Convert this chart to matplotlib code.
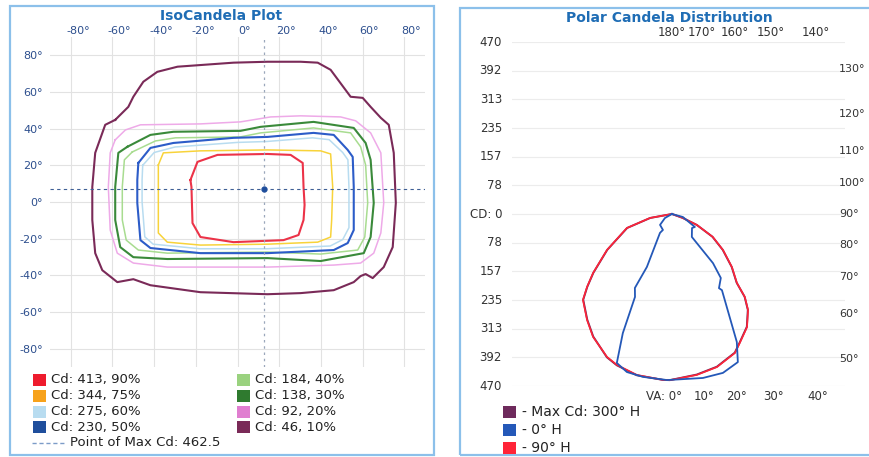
import matplotlib
matplotlib.use("Agg")
import matplotlib.pyplot as plt
import matplotlib.transforms as mtransforms
from matplotlib.patches import Rectangle
from matplotlib.lines import Line2D
import numpy as np

W, H = 869, 457

# ---------------- IsoCandela contours (horizontal deg, vertical deg) ----------------
c90_h = [-22.6, -19.2, -9.6, 14.4, 25.5, 31.3, 31.7, 32.2, 31.7, 29.3, 22.1, -1.9, -17.8, -21.6, -22.1]
c90_v = [12.0, 21.9, 25.7, 26.2, 25.7, 21.3, 8.2, -1.6, -9.8, -18.0, -20.8, -21.9, -19.1, -11.5, 8.2]

c75_h = [-38.0, -35.6, -17.8, 14.4, 39.9, 44.7, 45.7, 45.2, 44.7, 38.5, 14.4, -17.8, -33.7, -38.0, -38.0]
c75_v = [20.2, 26.8, 27.9, 28.4, 27.9, 26.2, 8.2, -9.8, -19.1, -21.9, -23.0, -23.5, -21.9, -16.9, 1.1]

c60_h = [-45.5, -40.0, -30.0, 0.0, 14.0, 36.0, 44.0, 50.5, 53.0, 53.5, 53.5, 50.5, 44.5, 14.0, -18.0, -40.5, -44.5, -45.8, -45.8]
c60_v = [20.0, 27.0, 30.0, 32.5, 33.0, 35.0, 34.0, 27.0, 23.0, 8.0, -14.0, -20.5, -24.0, -25.5, -25.5, -23.0, -19.0, 0.0, 12.0]

c50_h = [-47.6, -41.8, -30.8, -1.9, 14.4, 36.5, 46.2, 52.9, 55.3, 55.8, 55.8, 52.9, 46.2, 14.4, -17.8, -41.8, -46.6, -48.1, -48.1]
c50_v = [21.3, 29.5, 32.2, 35.0, 35.5, 37.7, 36.6, 28.4, 24.6, 8.2, -15.3, -22.4, -26.2, -27.9, -27.9, -25.1, -20.8, -0.5, 12.0]

c40_h = [-50.5, -39.4, -29.8, 1.4, 11.1, 36.5, 54.3, 59.1, 61.5, 62.5, 61.1, 57.7, 39.9, 14.4, -33.7, -47.6, -53.4, -55.3, -55.3, -54.3]
c40_v = [27.3, 33.3, 35.0, 35.5, 37.7, 40.4, 37.7, 30.1, 20.2, -0.5, -19.1, -26.2, -28.4, -27.3, -27.9, -26.2, -20.8, -9.8, 8.2, 23.0]

c30_h = [-52.9, -41.8, -30.8, 1.4, 11.1, 36.5, 55.8, 61.5, 63.9, 65.4, 63.9, 60.6, 39.9, 14.4, -33.7, -50.0, -56.3, -58.7, -58.7, -57.2]
c30_v = [30.1, 36.6, 38.3, 38.8, 41.0, 43.7, 40.4, 32.2, 23.0, -0.5, -19.1, -27.9, -32.2, -30.6, -31.1, -30.1, -24.6, -9.8, 8.2, 26.8]

c20_h = [-58.7, -53.8, -46.6, -17.8, 1.4, 15.9, 30.3, 49.5, 56.7, 63.9, 68.8, 70.2, 68.8, 65.4, 59.1, 46.2, 14.4, -33.7, -50.0, -57.7, -61.1, -62.0, -61.1]
c20_v = [33.9, 39.3, 42.1, 42.6, 43.7, 46.4, 47.0, 46.4, 44.3, 37.7, 26.8, -0.5, -16.9, -27.9, -33.3, -34.4, -35.5, -35.5, -33.3, -27.9, -15.3, 8.2, 26.8]

c10_h = [-58.7, -52.4, -50.0, -45.2, -38.5, -28.8, -1.9, 14.4, 30.3, 38.5, 44.7, 54.3, 60.1, 63.9, 68.8,
         72.6, 75.0, 76.0, 74.5, 70.2, 64.9, 61.5, 59.1, 55.8, 46.2, 30.3, 14.4, -17.8, -41.8, -50.0,
         -57.7, -64.9, -68.3, -69.7, -69.7, -68.3, -63.5]
c10_v = [44.8, 51.9, 57.4, 65.6, 71.0, 73.8, 76.0, 76.5, 76.5, 76.0, 72.1, 57.4, 56.8, 51.9, 45.9,
         42.1, 26.8, -0.5, -24.6, -35.5, -41.5, -39.3, -40.4, -43.7, -48.1, -49.7, -50.3, -49.2, -45.4, -42.1,
         -43.7, -37.2, -27.9, -9.8, 8.2, 26.8, 42.1]

iso_h = [c90_h, c75_h, c60_h, c50_h, c40_h, c30_h, c20_h, c10_h]
iso_v = [c90_v, c75_v, c60_v, c50_v, c40_v, c30_v, c20_v, c10_v]
iso_labels = ['Cd: 413, 90%', 'Cd: 344, 75%', 'Cd: 275, 60%', 'Cd: 230, 50%',
              'Cd: 184, 40%', 'Cd: 138, 30%', 'Cd: 92, 20%', 'Cd: 46, 10%']
iso_line_colors = ['#ec3348', '#f8d33a', '#b8dcf0', '#2c5cc8',
                   '#a8dc90', '#3a8a3a', '#eeaae8', '#7a2a58']
iso_box_colors = ['#ee1c2e', '#f7a21b', '#b8dcf0', '#1f4e9c',
                  '#9ad27f', '#2f7a2f', '#e07ed0', '#7a2a58']

max_h, max_v, max_cd = 12.5, 7.0, 462.5
iso_ticks = [-80, -60, -40, -20, 0, 20, 40, 60, 80]

# ---------------- Polar candela curves (signed vertical angle, candela) ----------------
red_va = [-90, -79.7, -72.7, -61.0, -53.2, -49.3, -46.0, -38.7, -32.7, -24.4, -20.0, -12.3, -3.1, -0.7,
          8.8, 16.4, 24.4, 27.8, 33.6, 38.4, 41.3, 43.3, 48.5, 54.8, 60.7, 66.3, 70.0, 90]
red_cd = [0, 61, 129, 203, 269, 306, 338, 371, 399, 429, 439, 450, 454, 454,
          445, 436, 417, 398, 371, 335, 302, 259, 219, 171, 128, 75, 32, 0]

purple_va = [-90, -79.7, -72.7, -61.0, -53.2, -49.3, -46.0, -38.7, -32.7, -24.4, -20.0, -12.3, -3.1, -0.7,
             8.8, 16.4, 24.4, 27.8, 33.6, 38.4, 41.3, 43.3, 48.5, 54.8, 60.7, 66.3, 70.0, 90]
purple_cd = [0, 60, 128, 202, 268, 305, 337, 370, 398, 430, 440, 451, 454, 454,
             444, 435, 416, 397, 370, 334, 301, 258, 218, 170, 127, 74, 31, 0]

blue_va = [-90, -60.0, -47.5, -29.4, -32.3, -25.3, -26.6, -24.0, -22.4, -20.3, -15.9, -10.1, -1.7,
           10.7, 17.8, 24.0, 26.9, 33.3, 32.4, 37.4, 39.9, 41.0, 55.0, 60.5, 74.7, 90]
blue_cd = [0, 22, 44, 50, 61, 160, 226, 248, 352, 434, 449, 452, 454,
           456, 456, 443, 392, 249, 240, 220, 175, 83, 67, 72, 31, 0]

polar_labels = ['- Max Cd: 300° H', '- 0° H', '- 90° H']
polar_colors = ['#6e2a5c', '#2458b8', '#ff2438']

cd_ticks = [470, 392, 313, 235, 157, 78, 0, -78, -157, -235, -313, -392, -470]
va_bottom = [0, 10, 20, 30, 40]
va_right = [50, 60, 70, 80, 90, 100, 110, 120, 130]
va_top = [140, 150, 160, 170, 180]

# ---------------- figure ----------------
fig = plt.figure(figsize=(W / 100, H / 100), dpi=100)
fig.patch.set_facecolor('white')


def fx(px):
    return px / W


def fy(py):
    return 1 - py / H


border = '#8cc0ea'
fig.patches.append(Rectangle((fx(10), fy(455)), fx(424), 449 / H, transform=fig.transFigure,
                             fill=False, edgecolor=border, lw=1.6))
fig.patches.append(Rectangle((fx(460), fy(455)), fx(420), 447 / H, transform=fig.transFigure,
                             fill=False, edgecolor=border, lw=1.6))

title_col = '#1f6db5'
fig.text(fx(221), fy(16), 'IsoCandela Plot', ha='center', va='center',
         fontsize=10, fontweight='bold', color=title_col)
fig.text(fx(669), fy(18), 'Polar Candela Distribution', ha='center', va='center',
         fontsize=10, fontweight='bold', color=title_col)

# ---- IsoCandela axes ----
ax = fig.add_axes([fx(50), fy(367), 375 / W, 330 / H])
ax.set_xlim(-90, 90)
ax.set_ylim(-90, 90)
for s in ax.spines.values():
    s.set_visible(False)
ax.grid(True, color='#e2e2e2', lw=0.8)
ax.set_axisbelow(True)
ax.set_xticks(iso_ticks)
ax.set_yticks(iso_ticks)
ax.set_xticklabels([f'{t}°' for t in iso_ticks])
ax.set_yticklabels([f'{t}°' for t in iso_ticks])
ax.xaxis.tick_top()
ax.tick_params(length=0, labelsize=8, labelcolor='#2d4f8e')
ax.tick_params(axis='x', pad=1)
ax.tick_params(axis='y', pad=5)
shift = mtransforms.ScaledTranslation(7 / 100, 0, fig.dpi_scale_trans)
for lab in ax.get_xticklabels():
    lab.set_transform(lab.get_transform() + shift)

for hs, vs, col in zip(iso_h[::-1], iso_v[::-1], iso_line_colors[::-1]):
    hh = list(hs) + [hs[0]]
    vv = list(vs) + [vs[0]]
    lw = 1.5 if col in ('#7a2a58', '#3a8a3a', '#2c5cc8', '#ec3348') else 1.1
    ax.plot(hh, vv, color=col, lw=lw)

ax.axhline(max_v, color='#3f5f95', lw=0.8, ls=(0, (3, 3)))
ax.axvline(max_h, color='#9aa7bb', lw=0.9, ls=(0, (2, 3)))
ax.plot([max_h], [max_v], 'o', color='#1f4e9c', ms=3.5)

# legend (left panel)
rows = [380, 396, 412, 427]
for i, (lab, col) in enumerate(zip(iso_labels, iso_box_colors)):
    col_x = 33 if i < 4 else 237
    ry = rows[i % 4]
    fig.patches.append(Rectangle((fx(col_x), fy(ry + 6)), 13 / W, 12 / H, transform=fig.transFigure,
                                 facecolor=col, edgecolor='none'))
    fig.text(fx(col_x + 18), fy(ry), lab, ha='left', va='center', fontsize=9.5, color='#222222')
fig.lines.append(Line2D([fx(32), fx(64)], [fy(443), fy(443)], transform=fig.transFigure,
                        color='#7c9cc8', lw=1.0, ls=(0, (3, 2))))
fig.text(fx(70), fy(443), f'Point of Max Cd: {max_cd}', ha='left', va='center',
         fontsize=9.5, color='#222222')

# ---- Polar candela axes ----
x_lo, x_hi, y_r = -437, 473, 470
ax2 = fig.add_axes([fx(512), fy(386), 333 / W, 344 / H])
ax2.set_xlim(x_lo, x_hi)
ax2.set_ylim(-y_r, y_r)
for s in ax2.spines.values():
    s.set_visible(False)
ax2.set_xticks([])
ax2.set_yticks(cd_ticks)
ax2.set_yticklabels([])
ax2.tick_params(length=0)
ax2.grid(True, axis='y', color='#ececec', lw=0.8)


def polar_xy(va, cd):
    a = np.radians(va)
    cd = np.asarray(cd, dtype=float)
    return cd * np.sin(a), -cd * np.cos(a)


for va, cd, col, lw in [(purple_va, purple_cd, polar_colors[0], 1.4),
                        (red_va, red_cd, polar_colors[2], 1.2),
                        (blue_va, blue_cd, polar_colors[1], 1.3)]:
    px, py = polar_xy(va, cd)
    ax2.plot(px, py, color=col, lw=lw)

lab_col = '#333333'
for c in cd_ticks:
    txt = 'CD: 0' if c == 0 else str(abs(c))
    ax2.annotate(txt, xy=(x_lo, c), xytext=(-10, 0), textcoords='offset pixels',
                 ha='right', va='center', fontsize=8.5, color=lab_col, annotation_clip=False)
for a in va_bottom:
    x = y_r * np.tan(np.radians(a))
    if a == 0:
        ax2.annotate('VA: 0°', xy=(x, -y_r), xytext=(10, -11), textcoords='offset pixels',
                     ha='right', va='center', fontsize=8.5, color=lab_col, annotation_clip=False)
    else:
        ax2.annotate(f'{a}°', xy=(x, -y_r), xytext=(2, -11), textcoords='offset pixels',
                     ha='center', va='center', fontsize=8.5, color=lab_col, annotation_clip=False)
for a in va_right:
    y = -x_hi / np.tan(np.radians(a)) if a != 90 else 0.0
    ax2.annotate(f'{a}°', xy=(x_hi, y), xytext=(-6, 0), textcoords='offset pixels',
                 ha='left', va='center', fontsize=8, color=lab_col, annotation_clip=False)
for a in va_top:
    x = y_r * np.tan(np.radians(180 - a))
    ax2.annotate(f'{a}°', xy=(x, y_r), xytext=(0, 9), textcoords='offset pixels',
                 ha='center', va='center', fontsize=8.5, color=lab_col, annotation_clip=False)

# legend (right panel)
for i, (lab, col) in enumerate(zip(polar_labels, polar_colors)):
    ry = 412 + 18 * i
    fig.patches.append(Rectangle((fx(503), fy(ry + 6)), 13 / W, 12 / H, transform=fig.transFigure,
                                 facecolor=col, edgecolor='none'))
    fig.text(fx(522), fy(ry), lab, ha='left', va='center', fontsize=10, color='#222222')

fig.savefig('out.png', dpi=100)
